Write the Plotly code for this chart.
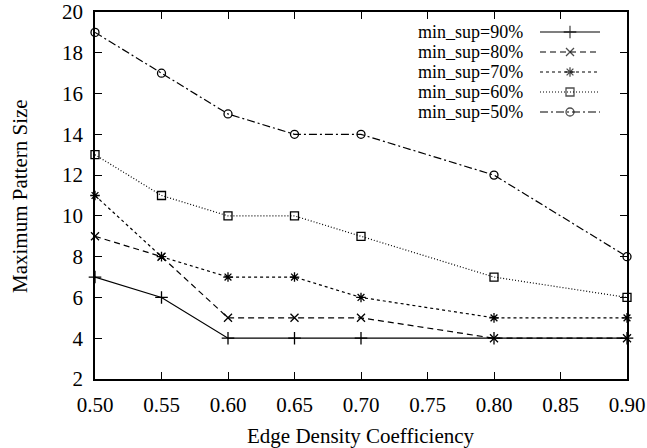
import plotly.graph_objects as go

x_vals = [0.50, 0.55, 0.60, 0.65, 0.70, 0.80, 0.90]
series_names = ["min_sup=90%", "min_sup=80%", "min_sup=70%", "min_sup=60%", "min_sup=50%"]
sup90 = [7, 6, 4, 4, 4, 4, 4]
sup80 = [9, 8, 5, 5, 5, 4, 4]
sup70 = [11, 8, 7, 7, 6, 5, 5]
sup60 = [13, 11, 10, 10, 9, 7, 6]
sup50 = [19, 17, 15, 14, 14, 12, 8]
x_ticks = [0.50, 0.55, 0.60, 0.65, 0.70, 0.75, 0.80, 0.85, 0.90]
y_ticks = [2, 4, 6, 8, 10, 12, 14, 16, 18, 20]

series_values = [sup90, sup80, sup70, sup60, sup50]
dashes = ["solid", "6px,4px", "3px,3px", "1px,2px", "8px,3px,2px,3px"]
symbols = ["cross-thin-open", "x-thin-open", "asterisk-open", "square-open", "circle-open"]
msizes = [9, 8, 8, 8, 8]

FONT = "Liberation Serif"
FS = 21
LEG_FS = 18
W, H = 647, 448
L, R, T, B = 95, 20, 12, 69
PW, PH = W - L - R, H - T - B

fig = go.Figure()
for name, vals, d, s, ms in zip(series_names, series_values, dashes, symbols, msizes):
    fig.add_trace(go.Scatter(
        x=x_vals, y=vals, name=name, mode="lines+markers",
        line=dict(color="black", width=1.2, dash=d),
        marker=dict(symbol=s, size=ms, color="black", line=dict(color="black", width=1.3)),
        cliponaxis=False, showlegend=False,
    ))

# custom gnuplot-style legend (text right, sample on the right), in pixel units of an overlay axis
leg_text_x = 430
leg_x0, leg_x1 = 445, 505
leg_y0, leg_dy = 347, 20
for i, (name, d, s, ms) in enumerate(zip(series_names, dashes, symbols, msizes)):
    yy = leg_y0 - i * leg_dy
    fig.add_trace(go.Scatter(
        x=[leg_x0, (leg_x0 + leg_x1) / 2, leg_x1], y=[yy, yy, yy],
        mode="lines+markers", xaxis="x2", yaxis="y2",
        line=dict(color="black", width=1.2, dash=d),
        marker=dict(symbol=s, size=[0, ms, 0], color="black", line=dict(color="black", width=1.3)),
        showlegend=False, hoverinfo="skip",
    ))
    fig.add_annotation(x=leg_text_x, y=yy, xref="x2", yref="y2", text=name,
                       showarrow=False, xanchor="right", yanchor="middle",
                       font=dict(family=FONT, size=LEG_FS, color="black"))

# axis titles
fig.add_annotation(x=0.5, y=(379 - 436) / PH, xref="paper", yref="paper",
                   text="Edge Density Coefficiency", showarrow=False,
                   xanchor="center", yanchor="middle",
                   font=dict(family=FONT, size=FS, color="black"))
fig.add_annotation(x=(20 - L) / PW, y=(379 - 196) / PH, xref="paper", yref="paper",
                   text="Maximum Pattern Size", showarrow=False, textangle=-90,
                   xanchor="center", yanchor="middle",
                   font=dict(family=FONT, size=FS, color="black"))

axis_common = dict(
    showgrid=False, zeroline=False, showline=True, linecolor="black", linewidth=1.5,
    mirror="ticks", ticks="inside", ticklen=7, tickwidth=1.2, tickcolor="black",
    ticklabelstandoff=6, automargin=False,
    tickfont=dict(family=FONT, size=FS, color="black"),
)

fig.update_layout(
    width=W, height=H,
    font=dict(family=FONT, color="black"),
    margin=dict(l=L, r=R, t=T, b=B),
    paper_bgcolor="white", plot_bgcolor="white",
    xaxis=dict(range=[0.5, 0.9], tickvals=x_ticks, ticktext=[f"{v:.2f}" for v in x_ticks],
               **axis_common),
    yaxis=dict(range=[2, 20], tickvals=y_ticks, **axis_common),
    xaxis2=dict(range=[0, PW], overlaying="x", visible=False, fixedrange=True),
    yaxis2=dict(range=[0, PH], overlaying="y", visible=False, fixedrange=True),
    showlegend=False,
)

fig.write_html("out.html")
